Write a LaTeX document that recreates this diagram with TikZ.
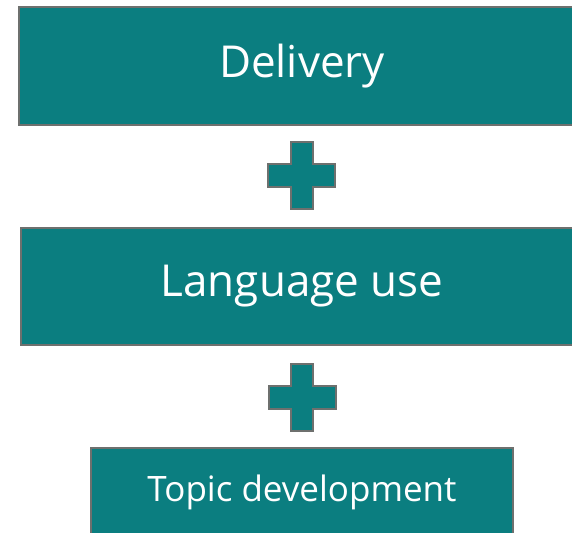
\documentclass[tikz,border=0pt]{standalone}
\usepackage{fontspec}
\setmainfont{Open Sans}
\usetikzlibrary{calc}
\definecolor{teal1}{HTML}{0B7E80}
\definecolor{edge1}{HTML}{6E706E}
\begin{document}
\begin{tikzpicture}[x=1pt,y=-1pt,
  box/.style={draw=edge1,line width=2pt,fill=teal1,text=white,inner sep=0pt,anchor=north west},
  plus/.style={draw=edge1,line width=2pt,fill=teal1}]
\useasboundingbox (0,0) rectangle (572,532);
\clip (0,0) rectangle (572,532);
\node[box,minimum width=566pt,minimum height=118pt] (b1) at (18,6) {\fontsize{44}{50}\selectfont Delivery};
\node[box,minimum width=562pt,minimum height=117pt] (b2) at (20,227) {\fontsize{44}{50}\selectfont Language use};
\node[box,minimum width=422pt,minimum height=88pt] (b3) at (90,447) {\fontsize{35}{40}\selectfont Topic development};
\coordinate (p1) at (301.5,175.5);
\coordinate (p2) at (302,397);
\foreach \p in {p1,p2}{
  \path[plus] ($(\p)+(-11,-33.5)$) -- ($(\p)+(11,-33.5)$) -- ($(\p)+(11,-11.5)$) -- ($(\p)+(33.5,-11.5)$)
    -- ($(\p)+(33.5,11.5)$) -- ($(\p)+(11,11.5)$) -- ($(\p)+(11,33.5)$) -- ($(\p)+(-11,33.5)$)
    -- ($(\p)+(-11,11.5)$) -- ($(\p)+(-33.5,11.5)$) -- ($(\p)+(-33.5,-11.5)$) -- ($(\p)+(-11,-11.5)$) -- cycle;
}
\end{tikzpicture}
\end{document}
